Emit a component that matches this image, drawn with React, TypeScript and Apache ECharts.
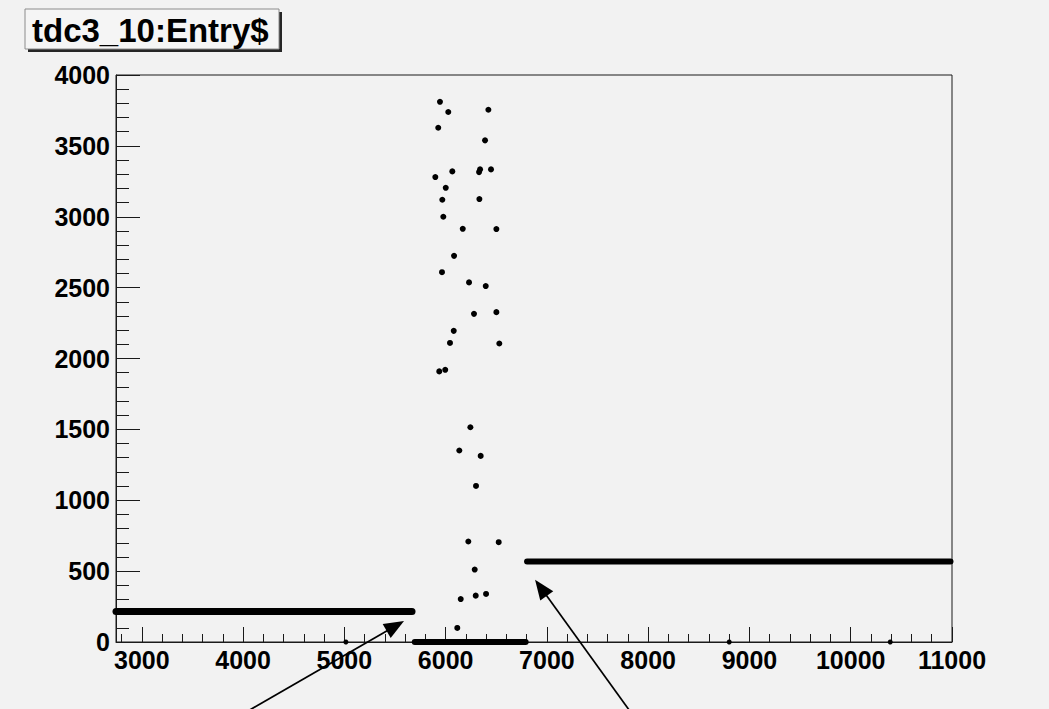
import React, { useEffect, useRef } from "react";
import * as echarts from "echarts";

// ---- data ----
const X_MIN = 2745;
const X_MAX = 11000;
const Y_MIN = 0;
const Y_MAX = 4000;

const xMajorTicks = [3000, 4000, 5000, 6000, 7000, 8000, 9000, 10000, 11000];
const xMinorTicks = [
  2800, 3200, 3400, 3600, 3800, 4200, 4400, 4600, 4800, 5200, 5400, 5600, 5800,
  6200, 6400, 6600, 6800, 7200, 7400, 7600, 7800, 8200, 8400, 8600, 8800, 9200,
  9400, 9600, 9800, 10200, 10400, 10600, 10800,
];

// dense bands of entries (drawn as thick strokes)
const lowBandX = [2745, 5668];
const lowBandY = [215, 215];
const zeroBandX = [5695, 6790];
const zeroBandY = [0, 0];
const highBandX = [6804, 10985];
const highBandY = [568, 568];

// scattered entries
const clusterX = [
  5944, 6026, 6422, 5927, 6389, 6066, 6340, 6330, 6448, 5898, 6001, 5967, 6333,
  5977, 6169, 6501, 6083, 5964, 6231, 6396, 6280, 6501, 6080, 6043, 6530, 5937,
  5996, 6244, 6135, 6346, 6300, 6224, 6524, 6287, 6149, 6297, 6399, 6115,
];
const clusterY = [
  3811, 3739, 3755, 3628, 3539, 3320, 3334, 3315, 3334, 3280, 3204, 3120, 3125,
  3000, 2915, 2913, 2724, 2609, 2537, 2511, 2315, 2327, 2195, 2110, 2106, 1909,
  1920, 1515, 1351, 1313, 1101, 709, 704, 511, 303, 327, 339, 99,
];
const zeroPointsX = [5015, 8800, 10390];
const zeroPointsY = [0, 0, 0];

// annotation arrows (data coordinates: tail below the axis, tip at the band end)
const arrowTails = [
  [4040, -490],
  [7822, -490],
];
const arrowTips = [
  [5589, 148],
  [6883, 440],
];

const TITLE = "tdc3_10:Entry$";

const zip = (xs: number[], ys: number[]) => xs.map((x, i) => [x, ys[i]]);

export default function App() {
  const ref = useRef<HTMLDivElement>(null);

  useEffect(() => {
    const chart = echarts.init(ref.current!, null, { renderer: "svg" });
    const font = "'Liberation Sans', Arial, Helvetica, sans-serif";
    const axisColor = "#1a1a1a";
    const labelStyle = {
      color: "#000",
      fontFamily: font,
      fontWeight: "bold" as const,
      fontSize: 25,
      formatter: (v: number) => String(v),
    };

    const bandSeries = (xs: number[], ys: number[], w: number) => ({
      type: "line",
      data: zip(xs, ys),
      symbol: "none",
      clip: false,
      silent: true,
      lineStyle: { color: "#000", width: w, cap: "round", opacity: 1 },
      z: 3,
    });

    chart.setOption({
      animation: false,
      backgroundColor: "#f2f2f2",
      grid: {
        left: 116,
        top: 75,
        right: 97,
        bottom: 67,
        show: true,
        borderColor: axisColor,
        borderWidth: 1,
        backgroundColor: "transparent",
      },
      xAxis: [
        {
          type: "value",
          min: X_MIN,
          max: X_MAX,
          position: "bottom",
          axisLine: { show: true, onZero: false, lineStyle: { color: axisColor, width: 1 } },
          axisTick: {
            show: true,
            inside: true,
            length: 15,
            customValues: xMajorTicks,
            lineStyle: { color: axisColor, width: 1 },
          },
          axisLabel: { ...labelStyle, customValues: xMajorTicks, margin: 5 },
          splitLine: { show: false },
        },
        {
          type: "value",
          min: X_MIN,
          max: X_MAX,
          position: "bottom",
          axisLine: { show: false },
          axisTick: {
            show: true,
            inside: true,
            length: 8,
            customValues: xMinorTicks,
            lineStyle: { color: axisColor, width: 1 },
          },
          axisLabel: { show: false },
          splitLine: { show: false },
        },
      ],
      yAxis: {
        type: "value",
        min: Y_MIN,
        max: Y_MAX,
        interval: 500,
        axisLine: { show: true, onZero: false, lineStyle: { color: axisColor, width: 1 } },
        axisTick: { show: true, inside: true, length: 24, lineStyle: { color: axisColor, width: 1 } },
        minorTick: { show: true, splitNumber: 5, length: 13, lineStyle: { color: axisColor, width: 1 } },
        axisLabel: { ...labelStyle, margin: 6, padding: [6, 0, 0, 0] },
        splitLine: { show: false },
        minorSplitLine: { show: false },
      },
      series: [
        bandSeries(lowBandX, lowBandY, 7),
        bandSeries(zeroBandX, zeroBandY, 6),
        bandSeries(highBandX, highBandY, 6),
        {
          type: "scatter",
          data: zip(clusterX, clusterY),
          symbolSize: 6,
          itemStyle: { color: "#000", opacity: 1 },
          z: 4,
        },
        {
          type: "scatter",
          data: zip(zeroPointsX, zeroPointsY),
          symbolSize: 5,
          clip: false,
          itemStyle: { color: "#000", opacity: 1 },
          z: 4,
        },
      ],
    });

    // annotation graphics: title box and arrows
    const graphics: any[] = [
      { type: "rect", shape: { x: 28, y: 12, width: 254, height: 40 }, style: { fill: "#262626" }, z: 10 },
      {
        type: "rect",
        shape: { x: 25, y: 9, width: 254, height: 40 },
        style: { fill: "#f5f5f5", stroke: "#8c8c8c", lineWidth: 1 },
        z: 11,
      },
      {
        type: "text",
        x: 32,
        y: 30,
        style: {
          text: TITLE,
          fill: "#000",
          font: `bold 33px ${font}`,
          verticalAlign: "middle",
          align: "left",
        },
        z: 12,
      },
    ];

    const finder = { xAxisIndex: 0, yAxisIndex: 0 };
    arrowTails.forEach((tail, i) => {
      const a = chart.convertToPixel(finder, tail) as number[];
      const b = chart.convertToPixel(finder, arrowTips[i]) as number[];
      const dx = b[0] - a[0];
      const dy = b[1] - a[1];
      const len = Math.sqrt(dx * dx + dy * dy);
      const ux = dx / len;
      const uy = dy / len;
      const nx = -uy;
      const ny = ux;
      const headLen = 20;
      const headHalf = 8;
      const bx = b[0] - ux * headLen;
      const by = b[1] - uy * headLen;
      graphics.push({
        type: "line",
        shape: { x1: a[0], y1: a[1], x2: bx + ux * 2, y2: by + uy * 2 },
        style: { stroke: "#000", lineWidth: 1.7 },
        z: 12,
      });
      graphics.push({
        type: "polygon",
        shape: {
          points: [
            [b[0], b[1]],
            [bx + nx * headHalf, by + ny * headHalf],
            [bx - nx * headHalf, by - ny * headHalf],
          ],
        },
        style: { fill: "#000" },
        z: 12,
      });
    });
    chart.setOption({ graphic: graphics });

    return () => chart.dispose();
  }, []);

  return (
    <div
      ref={ref}
      style={{ position: "absolute", left: 0, top: 0, width: 1049, height: 709 }}
    />
  );
}
